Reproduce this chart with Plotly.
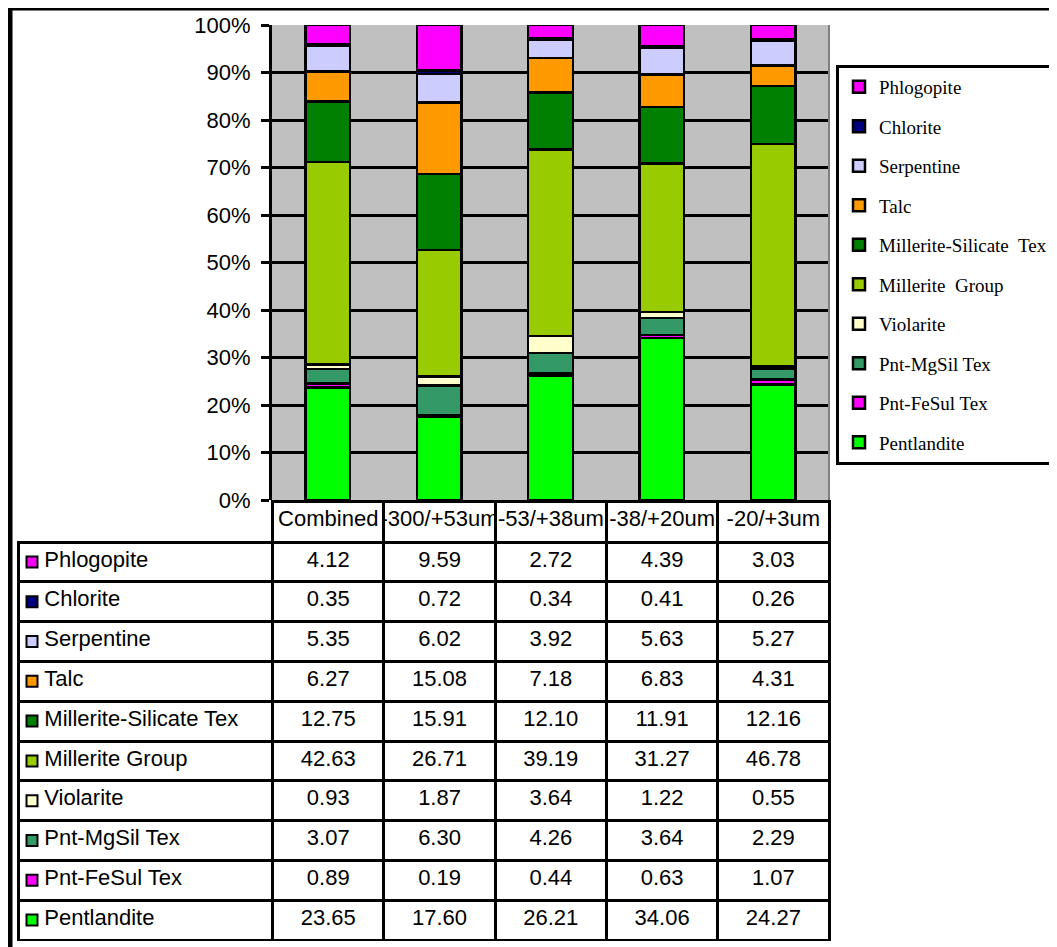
import plotly.graph_objects as go

# page has an 8px body margin: figure is placed at (8, 8) in the window
OFF = 8
W, H = 1057 - OFF, 947 - OFF

categories = ["Combined", "-300/+53um", "-53/+38um", "-38/+20um", "-20/+3um"]

# bottom -> top of the stack
minerals = ["Pentlandite", "Pnt-FeSul Tex", "Pnt-MgSil Tex", "Violarite", "Millerite Group",
            "Millerite-Silicate Tex", "Talc", "Serpentine", "Chlorite", "Phlogopite"]
colors = ["#00FF00", "#FF00FF", "#339966", "#FFFFCC", "#99CC00",
          "#008000", "#FF9900", "#CCCCFF", "#000080", "#FF00FF"]

pentlandite = [23.65, 17.60, 26.21, 34.06, 24.27]
pnt_fesul = [0.89, 0.19, 0.44, 0.63, 1.07]
pnt_mgsil = [3.07, 6.30, 4.26, 3.64, 2.29]
violarite = [0.93, 1.87, 3.64, 1.22, 0.55]
millerite_group = [42.63, 26.71, 39.19, 31.27, 46.78]
millerite_silicate = [12.75, 15.91, 12.10, 11.91, 12.16]
talc = [6.27, 15.08, 7.18, 6.83, 4.31]
serpentine = [5.35, 6.02, 3.92, 5.63, 5.27]
chlorite = [0.35, 0.72, 0.34, 0.41, 0.26]
phlogopite = [4.12, 9.59, 2.72, 4.39, 3.03]

series = [pentlandite, pnt_fesul, pnt_mgsil, violarite, millerite_group,
          millerite_silicate, talc, serpentine, chlorite, phlogopite]

y_ticks = list(range(0, 101, 10))
y_tick_labels = [f"{v}%" for v in y_ticks]

legend_names = {"Millerite-Silicate Tex": "Millerite-Silicate\u00a0 Tex",
                "Millerite Group": "Millerite\u00a0 Group"}

SANS = "Arial, Liberation Sans, sans-serif"
SERIF = "Times New Roman, Liberation Serif, serif"

def px_x(p):
    return (p - OFF) / W

def px_y(p):
    return 1 - (p - OFF) / H

fig = go.Figure()

n = len(minerals)
for i, (name, vals, col) in enumerate(zip(minerals, series, colors)):
    fig.add_trace(go.Bar(
        x=categories, y=vals, name=legend_names.get(name, name),
        legendgroup=name, legendrank=n - i,
        marker=dict(color=col, line=dict(color="black", width=2.5)),
        xaxis="x", yaxis="y",
    ))

# data table (rows top -> bottom as in reference)
rows = list(reversed(minerals))
row_vals = list(reversed(series))
row_cols = list(reversed(colors))

col_label = ["\u00a0\u00a0\u00a0" + r for r in rows]
col_data = [[f"{v[i]:.2f}" for v in row_vals] for i in range(len(categories))]

fig.add_trace(go.Table(
    domain=dict(x=[px_x(18), px_x(829)], y=[px_y(941), px_y(501)]),
    columnwidth=[254, 111, 111, 111, 111, 111],
    header=dict(
        values=[""] + categories,
        fill=dict(color=["rgba(0,0,0,0)"] + ["white"] * 5),
        line=dict(color=["rgba(0,0,0,0)"] + ["black"] * 5, width=3),
        font=dict(family=SANS, size=22, color="black"),
        align="center", height=41,
    ),
    cells=dict(
        values=[col_label] + col_data,
        fill=dict(color="rgba(0,0,0,0)"),
        line=dict(color="black", width=3),
        font=dict(family=SANS, size=22, color="black"),
        align=["left"] + ["center"] * 5, height=39.8,
    ),
))

# colour keys in the table's first column
fig.add_trace(go.Scatter(
    x=[0] * len(rows), y=rows, mode="markers", showlegend=False,
    marker=dict(symbol="square", size=11, color=row_cols, line=dict(color="black", width=2)),
    xaxis="x2", yaxis="y2", hoverinfo="skip",
))

fig.update_layout(
    width=W, height=H,
    margin=dict(l=0, r=0, t=0, b=0, autoexpand=False),
    paper_bgcolor="white",
    plot_bgcolor="rgba(0,0,0,0)",
    barmode="stack", barnorm="percent", bargap=0.6,
    showlegend=True,
    legend=dict(
        x=px_x(836), y=px_y(65), xanchor="left", yanchor="top",
        bgcolor="white", bordercolor="black", borderwidth=3,
        font=dict(family=SERIF, size=19, color="black"),
        traceorder="grouped", tracegroupgap=11.8,
        itemwidth=30,
    ),
    xaxis=dict(
        domain=[px_x(272), px_x(829)], showticklabels=False, ticks="",
        showgrid=False, zeroline=False, showline=False, fixedrange=True,
    ),
    yaxis=dict(
        domain=[px_y(500), px_y(25)], range=[0, 100],
        tickvals=y_ticks, ticktext=y_tick_labels,
        tickfont=dict(family=SANS, size=22, color="black"),
        ticks="outside", ticklen=8, tickwidth=3, tickcolor="black",
        ticklabelstandoff=6,
        showgrid=True, gridcolor="black", gridwidth=3,
        zeroline=False, showline=True, linecolor="black", linewidth=3,
        fixedrange=True,
    ),
    xaxis2=dict(domain=[px_x(22), px_x(42)], range=[-1, 1], visible=False, fixedrange=True),
    yaxis2=dict(domain=[px_y(940), px_y(542)], type="category", categoryarray=rows,
                range=[len(rows) - 0.5, -0.5], visible=False, fixedrange=True, anchor="x2"),
    shapes=[
        dict(type="rect", xref="x domain", yref="y domain", x0=0, x1=1, y0=0, y1=1,
             layer="below", fillcolor="#C0C0C0", line=dict(width=0)),
        dict(type="line", xref="paper", yref="paper", x0=px_x(829), x1=px_x(829),
             y0=px_y(500), y1=px_y(25), line=dict(color="#808080", width=2)),
        dict(type="rect", xref="paper", yref="paper", x0=px_x(10), x1=1.2,
             y0=-0.2, y1=px_y(8), line=dict(color="black", width=5)),
    ],
)

fig.write_html("out.html")
